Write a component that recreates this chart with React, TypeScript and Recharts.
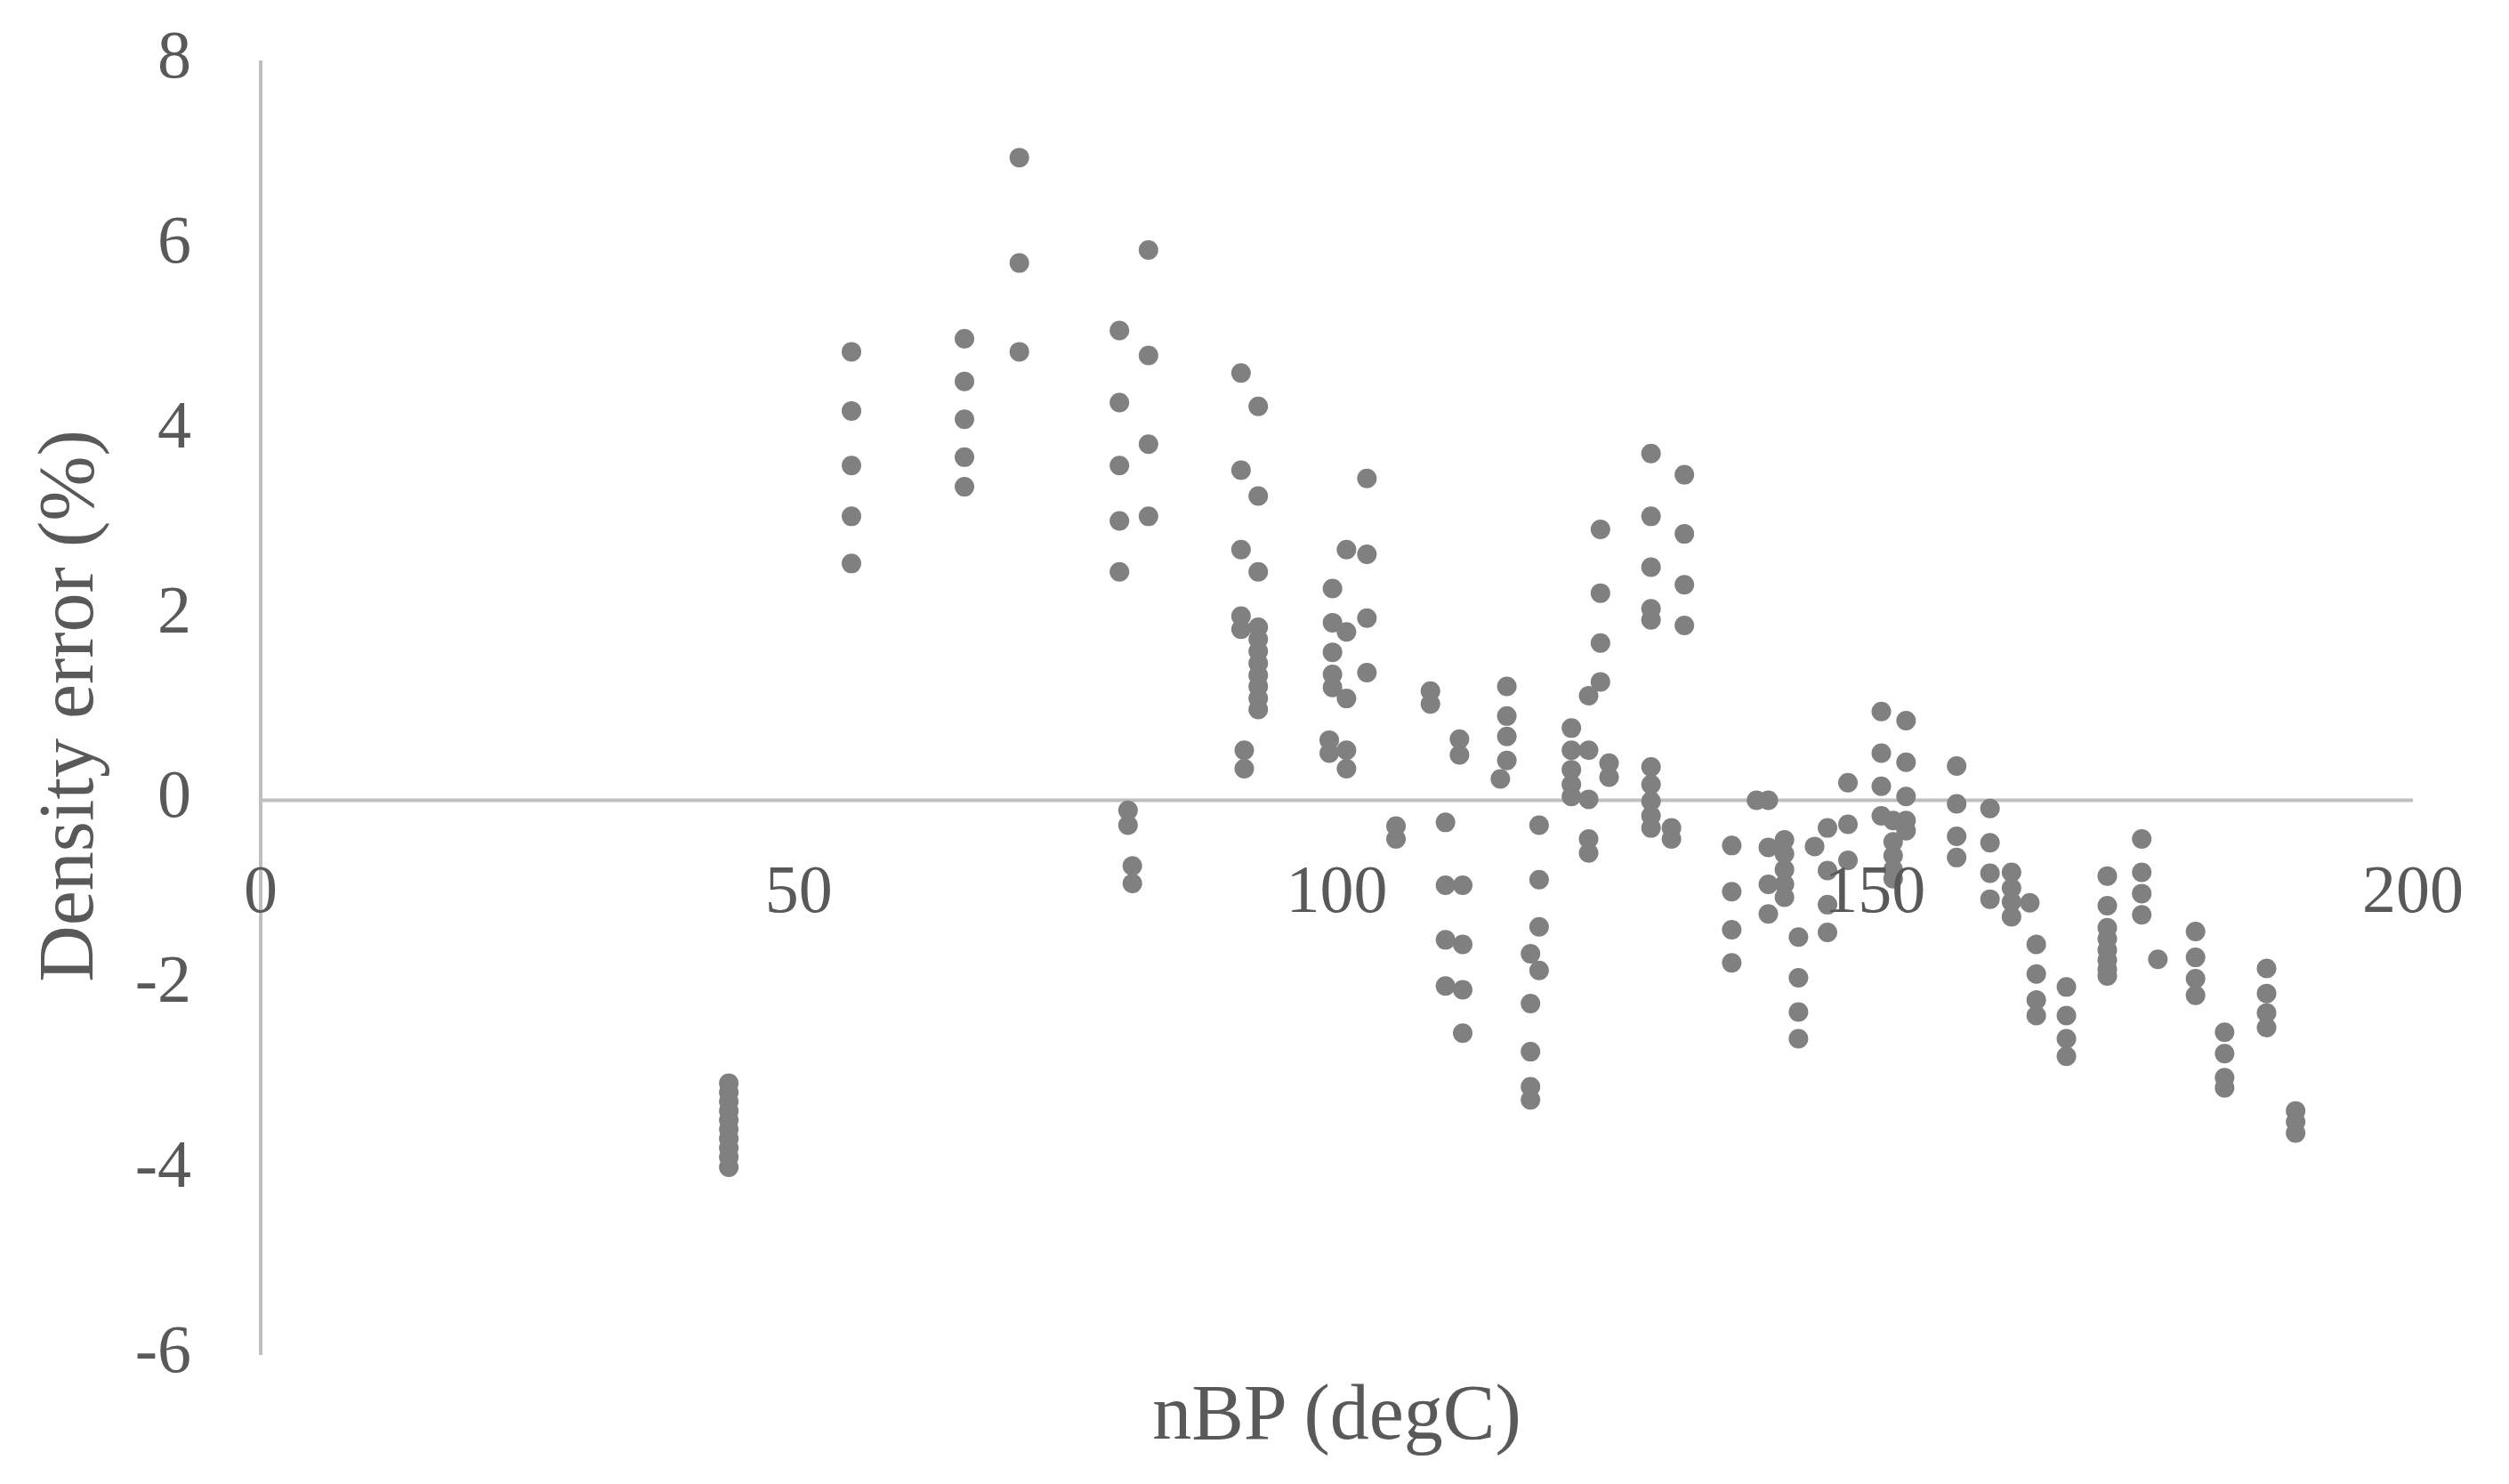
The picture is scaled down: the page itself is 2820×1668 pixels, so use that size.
import React from "react";
import {
  ScatterChart, Scatter, XAxis, YAxis, ReferenceLine, ReferenceDot, Label,
} from "recharts";

// normal boiling point of each compound (degC)
const NBP = [
  43.5, 54.9, 65.4, 70.5, 79.8, 80.6, 81.0, 82.5, 91.1, 91.4,
  92.7, 99.6, 99.3, 100.9, 102.8, 105.5, 108.7, 110.1, 111.4, 111.7,
  115.8, 115.2, 118.0, 118.8, 121.8, 123.4, 124.5, 125.3, 129.2, 131.1,
  132.3, 136.7, 139.0, 140.1, 141.6, 142.9, 144.4, 145.6, 147.5, 150.6,
  151.7, 152.9, 157.6, 160.7, 162.7, 164.4, 165.0, 167.8, 171.6, 174.8,
  176.3, 179.8, 182.5, 186.4, 189.1,
];

// density error (%) at each compound's measured conditions, same order as NBP
const DENSITY_ERROR = [
  [-3.06, -3.16, -3.26, -3.36, -3.46, -3.56, -3.66, -3.76, -3.86, -3.97],
  [4.85, 4.21, 3.62, 3.07, 2.56],
  [4.99, 4.53, 4.12, 3.71, 3.39],
  [6.95, 5.81, 4.85],
  [5.08, 4.3, 3.62, 3.02, 2.47],
  [-0.11, -0.27],
  [-0.71, -0.9],
  [5.95, 4.81, 3.85, 3.07],
  [4.62, 3.57, 2.71, 1.99, 1.85],
  [0.54, 0.34],
  [4.26, 3.29, 2.47, 1.87, 1.74, 1.61, 1.48, 1.35, 1.23, 1.1, 0.98],
  [2.29, 1.92, 1.6, 1.36, 1.22],
  [0.65, 0.51],
  [2.71, 1.82, 1.1, 0.54, 0.34],
  [3.48, 2.66, 1.97, 1.38],
  [-0.28, -0.42],
  [1.18, 1.04],
  [-0.24, -0.92, -1.51, -2.01],
  [0.66, 0.49],
  [-0.92, -1.56, -2.05, -2.52],
  [1.23, 0.91, 0.69, 0.43],
  [0.23],
  [-1.66, -2.2, -2.72, -3.1, -3.24],
  [-0.27, -0.86, -1.37, -1.84],
  [0.78, 0.54, 0.33, 0.17, 0.04],
  [1.13, 0.54, 0.01, -0.42, -0.57],
  [2.93, 2.24, 1.7, 1.28],
  [0.4, 0.25],
  [3.75, 3.07, 2.52, 2.07, 1.95, 0.36, 0.17, -0.01, -0.17, -0.3],
  [-0.3, -0.42],
  [3.52, 2.88, 2.33, 1.89],
  [-0.49, -0.99, -1.4, -1.76],
  [0.0],
  [0.0, -0.51, -0.91, -1.23],
  [-0.43, -0.58, -0.75, -0.91, -1.05],
  [-1.48, -1.92, -2.29, -2.58],
  [-0.5],
  [-0.3, -0.76, -1.13, -1.43],
  [0.19, -0.26, -0.65],
  [0.96, 0.51, 0.15, -0.17],
  [-0.22, -0.45, -0.6, -0.75, -0.85],
  [0.86, 0.41, 0.04, -0.22, -0.33],
  [0.37, -0.04, -0.39, -0.62],
  [-0.09, -0.46, -0.79, -1.07],
  [-0.78, -0.95, -1.1, -1.26],
  [-1.11],
  [-1.56, -1.88, -2.16, -2.33],
  [-2.02, -2.33, -2.58, -2.77],
  [-0.82, -1.14, -1.38, -1.5, -1.62, -1.73, -1.83, -1.9],
  [-0.42, -0.78, -1.01, -1.24],
  [-1.72],
  [-1.42, -1.7, -1.93, -2.11],
  [-2.51, -2.74, -3.0, -3.11],
  [-1.82, -2.09, -2.3, -2.46],
  [-3.36, -3.48, -3.6],
];

const X_TICKS = [0, 50, 100, 150, 200];
const Y_TICKS = [-6, -4, -2, 0, 2, 4, 6, 8];

const points = NBP.flatMap((x, i) => DENSITY_ERROR[i].map((y) => ({ x, y })));

const TEXT_GREY = "#595959";
const AXIS_GREY = "#bfbfbf";
const DOT_GREY = "#808080";
const FONT = "'Liberation Serif', 'Times New Roman', serif";

function renderDot(props: any) {
  return <circle cx={props.cx} cy={props.cy} r={11} fill={DOT_GREY} />;
}

function YTitle(props: any) {
  const vb = props.viewBox;
  const cx = vb.x + 74;
  const cy = vb.y + vb.height / 2 - 2;
  return (
    <text
      x={cx}
      y={cy}
      transform={`rotate(-90 ${cx} ${cy})`}
      textAnchor="middle"
      dominantBaseline="central"
      fill={TEXT_GREY}
      fontSize={88}
      fontFamily={FONT}
    >
      Density error (%)
    </text>
  );
}

export default function App() {
  return (
    <div style={{ position: "absolute", left: 0, top: 0, background: "#fff" }}>
      <ScatterChart width={2820} height={1668} margin={{ top: 68, right: 108, bottom: 0, left: 0 }}>
        <XAxis
          type="number"
          dataKey="x"
          domain={[0, 200]}
          ticks={X_TICKS}
          axisLine={false}
          tickLine={false}
          tick={false}
          height={145}
        >
          <Label value="nBP (degC)" position="insideBottom" offset={51} fill={TEXT_GREY} fontSize={88} fontFamily={FONT} />
        </XAxis>
        <YAxis
          type="number"
          dataKey="y"
          domain={[-6, 8]}
          ticks={Y_TICKS}
          interval={0}
          width={293}
          axisLine={{ stroke: AXIS_GREY, strokeWidth: 4 }}
          tickLine={false}
          tickSize={0}
          tickMargin={78}
          tick={{ fill: TEXT_GREY, fontSize: 76, fontFamily: FONT, dy: -8 }}
        >
          <Label content={<YTitle />} />
        </YAxis>
        <ReferenceLine y={0} stroke={AXIS_GREY} strokeWidth={4} />
        {X_TICKS.map((t) => (
          <ReferenceDot
            key={t}
            x={t}
            y={0}
            r={0}
            fill="none"
            stroke="none"
            label={{ value: t, position: "bottom", offset: 72, fill: TEXT_GREY, fontSize: 76, fontFamily: FONT }}
          />
        ))}
        <Scatter data={points} shape={renderDot} isAnimationActive={false} />
      </ScatterChart>
    </div>
  );
}
